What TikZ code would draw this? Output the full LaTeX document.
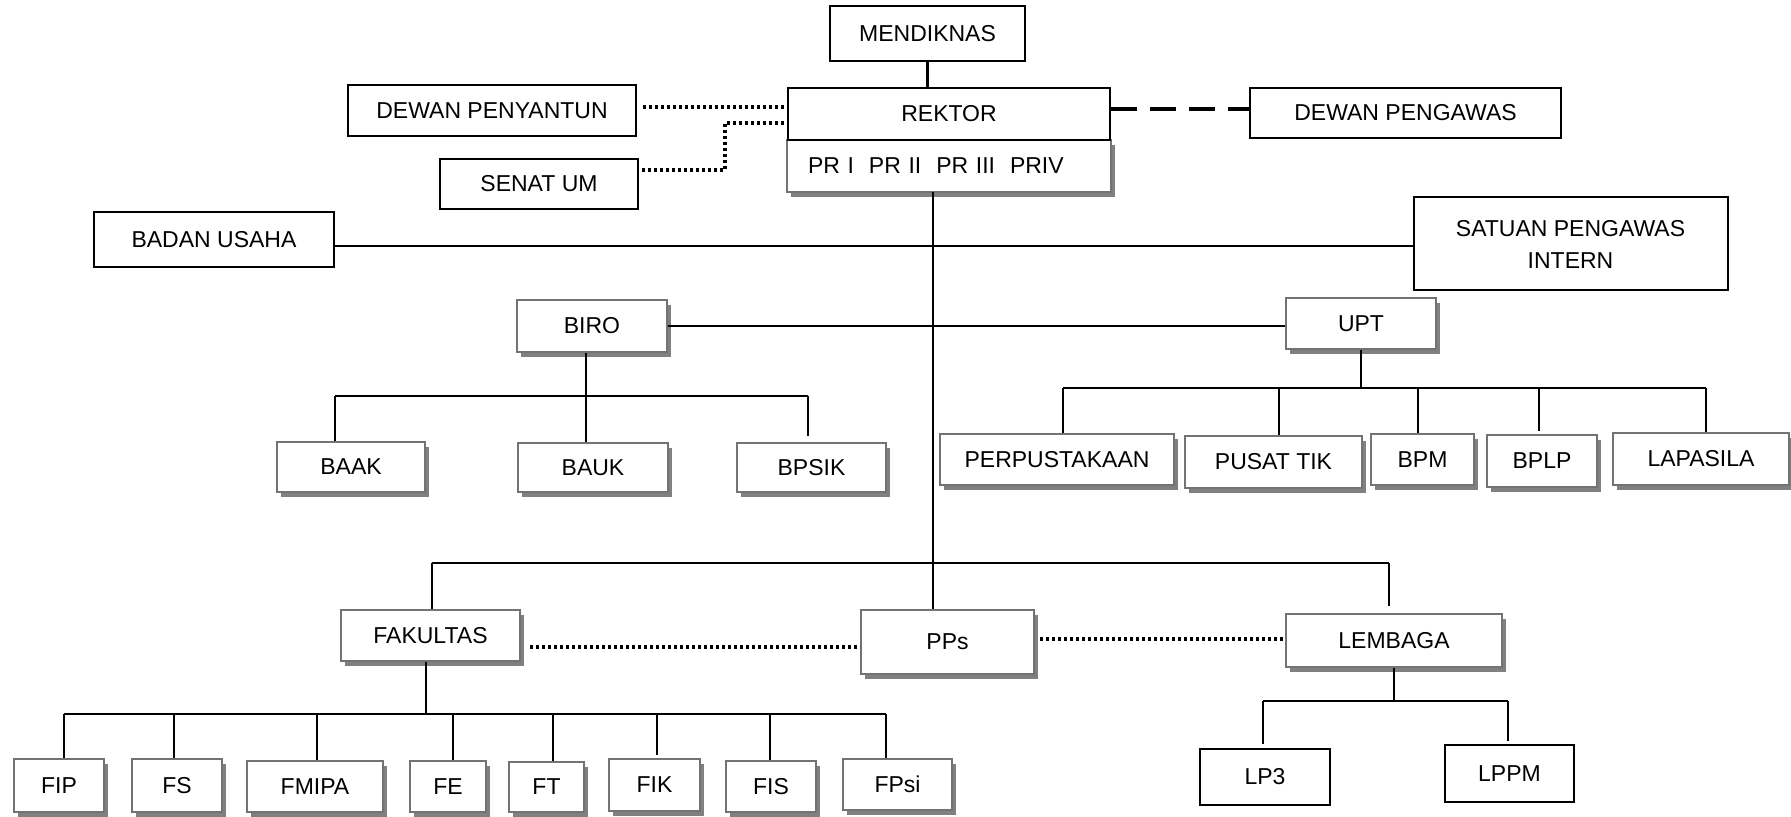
\documentclass[tikz,border=0pt]{standalone}
\usepackage{fontspec}
\setmainfont{Liberation Sans}
\usetikzlibrary{shadows}
\newcommand\orgfont{\fontsize{11.5}{16}\selectfont}
\begin{document}
\begin{tikzpicture}[x=0.5pt,y=-0.5pt,
  base/.style={font=\orgfont, inner sep=0pt, align=center},
  bbox/.style={base, draw=black, line width=1pt, fill=white},
  sbox/.style={base, draw=black!55, line width=1pt, fill=white,
    drop shadow={shadow xshift=2pt, shadow yshift=-2.5pt, fill=black!50, opacity=1}},
  wh/.style 2 args={minimum width=#1*0.5pt, minimum height=#2*0.5pt},
  conn/.style={line width=1.1pt},
  dotline/.style={line width=1.6pt, dash pattern=on 1.6pt off 1.4pt},
  dashline/.style={line width=1.6pt, dash pattern=on 13pt off 6.5pt}]
\useasboundingbox (0,0) rectangle (1791,817);
\fill[white] (0,0) rectangle (1791,817);

% top level
\node[bbox, wh={195}{55}] (mend) at (927.5,33.5) {MENDIKNAS};
\node[sbox, wh={324}{52}, text width=141pt, align=left, inner xsep=10.5pt] (pr) at (949,166)
  {PR I\hspace{0.65em}PR II\hspace{0.65em}PR III\hspace{0.65em}PRIV};
\node[bbox, wh={322}{52}] (rek) at (949,114) {REKTOR};
\node[bbox, wh={288}{51}] (dp) at (492,110.5) {DEWAN PENYANTUN};
\node[bbox, wh={311}{50}] (dpg) at (1405.5,113) {DEWAN PENGAWAS};
\node[bbox, wh={198}{50}] (senat) at (539,184) {SENAT UM};
\node[bbox, wh={240}{55}] (badan) at (214,239.5) {BADAN USAHA};
\node[bbox, wh={314}{93}] (spi) at (1570.5,244) {SATUAN PENGAWAS\\INTERN};

% biro / upt
\node[sbox, wh={150}{52}] (biro) at (592,326) {BIRO};
\node[sbox, wh={150}{51}] (upt) at (1361,324) {UPT};
\node[sbox, wh={148}{50}] (baak) at (351,467) {BAAK};
\node[sbox, wh={150}{49}] (bauk) at (593,467.5) {BAUK};
\node[sbox, wh={149}{49}] (bpsik) at (811.5,467.5) {BPSIK};
\node[sbox, wh={234}{51}] (perpus) at (1057,459.5) {PERPUSTAKAAN};
\node[sbox, wh={177}{52}] (pusat) at (1273.5,462) {PUSAT TIK};
\node[sbox, wh={103}{51}] (bpm) at (1422.5,459.5) {BPM};
\node[sbox, wh={110}{52}] (bplp) at (1542,461) {BPLP};
\node[sbox, wh={176}{52}] (lapa) at (1701,459) {LAPASILA};

% lower level
\node[sbox, wh={179}{51}] (fak) at (430.5,635.5) {FAKULTAS};
\node[sbox, wh={173}{64}] (pps) at (947.5,642) {PPs};
\node[sbox, wh={216}{53}] (lem) at (1394,640.5) {LEMBAGA};
\node[bbox, wh={130}{56}] (lp3) at (1265,777) {LP3};
\node[bbox, wh={129}{57}] (lppm) at (1509.5,773.5) {LPPM};

\node[sbox, wh={90}{53}] (fip) at (59,785.5) {FIP};
\node[sbox, wh={90}{53}] (fs) at (177,785.5) {FS};
\node[sbox, wh={136}{51}] (fmipa) at (315,786.5) {FMIPA};
\node[sbox, wh={76}{51}] (fe) at (448,786.5) {FE};
\node[sbox, wh={75}{50}] (ft) at (546.5,787) {FT};
\node[sbox, wh={91}{52}] (fik) at (654.5,785) {FIK};
\node[sbox, wh={90}{51}] (fis) at (771,786.5) {FIS};
\node[sbox, wh={109}{51}] (fpsi) at (897.5,784.5) {FPsi};

% ---- connectors ----
\draw[conn] (mend.south) -- (mend.south |- rek.north);
\draw[dashline] ([yshift=2.5pt]rek.east) -- ([yshift=2.5pt]rek.east -| dpg.west);
\coordinate (d0) at ([xshift=3pt,yshift=1.75pt]dp.east);
\draw[dotline] (d0) -- (d0 -| rek.west);
\coordinate (sbend) at (725,123);
\draw[dotline] ([xshift=1.5pt,yshift=7pt]senat.east) -| (sbend) -- (sbend -| rek.west);
\coordinate (bu) at ([yshift=-3.25pt]badan.east);
\draw[conn] (bu) -- (bu -| spi.west);

% trunk
\coordinate (tr) at (933,192);
\draw[conn] (tr) -- (tr |- pps.north);

% biro - upt
\draw[conn] (biro.east) -- (biro.east -| upt.west);
\coordinate (b1) at (335,396);
\coordinate (b2) at (586,396);
\coordinate (b3) at (808,396);
\draw[conn] (b2 |- biro.south) -- (b2);
\draw[conn] (b1) -- (b3);
\draw[conn] (b1) -- (b1 |- baak.north);
\draw[conn] (b2) -- (b2 |- bauk.north);
\draw[conn] (b3) -- ([yshift=3pt]b3 |- bpsik.north);

\coordinate (u1) at (1063,388);
\coordinate (u2) at (1279,388);
\coordinate (u3) at (1418,388);
\coordinate (u4) at (1539,388);
\coordinate (u5) at (1706,388);
\draw[conn] (upt.south) -- (upt.south |- u1);
\draw[conn] (u1) -- (u5);
\draw[conn] (u1) -- (u1 |- perpus.north);
\draw[conn] (u2) -- (u2 |- pusat.north);
\draw[conn] (u3) -- (u3 |- bpm.north);
\draw[conn] (u4) -- ([yshift=1.5pt]u4 |- bplp.north);
\draw[conn] (u5) -- (u5 |- lapa.north);

% main bus
\coordinate (m1) at (432,563);
\coordinate (m3) at (1389,563);
\draw[conn] (m1) -- (m3);
\draw[conn] (m1) -- (m1 |- fak.north);
\draw[conn] (m3) -- ([yshift=3.5pt]m3 |- lem.north);

% dotted links
\coordinate (d1) at ([xshift=4.5pt,yshift=-5.75pt]fak.east);
\draw[dotline] (d1) -- (d1 -| pps.west);
\coordinate (d2) at ([xshift=2.5pt,yshift=1.5pt]pps.east);
\draw[dotline] (d2) -- (d2 -| lem.west);

% fakultas children
\coordinate (f0) at (426,714);
\coordinate (f1) at (64,714);
\coordinate (f2) at (174,714);
\coordinate (f3) at (317,714);
\coordinate (f4) at (453,714);
\coordinate (f5) at (553,714);
\coordinate (f6) at (657,714);
\coordinate (f7) at (770,714);
\coordinate (f8) at (886,714);
\draw[conn] (f0 |- fak.south) -- (f0);
\draw[conn] (f1) -- (f8);
\draw[conn] (f1) -- (f1 |- fip.north);
\draw[conn] (f2) -- (f2 |- fs.north);
\draw[conn] (f3) -- (f3 |- fmipa.north);
\draw[conn] (f4) -- (f4 |- fe.north);
\draw[conn] (f5) -- (f5 |- ft.north);
\draw[conn] (f6) -- ([yshift=1.5pt]f6 |- fik.north);
\draw[conn] (f7) -- (f7 |- fis.north);
\draw[conn] (f8) -- (f8 |- fpsi.north);

% lembaga children
\coordinate (l1) at (1263,701);
\coordinate (l2) at (1508,701);
\draw[conn] (lem.south) -- (lem.south |- l1);
\draw[conn] (l1) -- (l2);
\draw[conn] (l1) -- ([yshift=2pt]l1 |- lp3.north);
\draw[conn] (l2) -- ([yshift=1.5pt]l2 |- lppm.north);
\end{tikzpicture}
\end{document}
